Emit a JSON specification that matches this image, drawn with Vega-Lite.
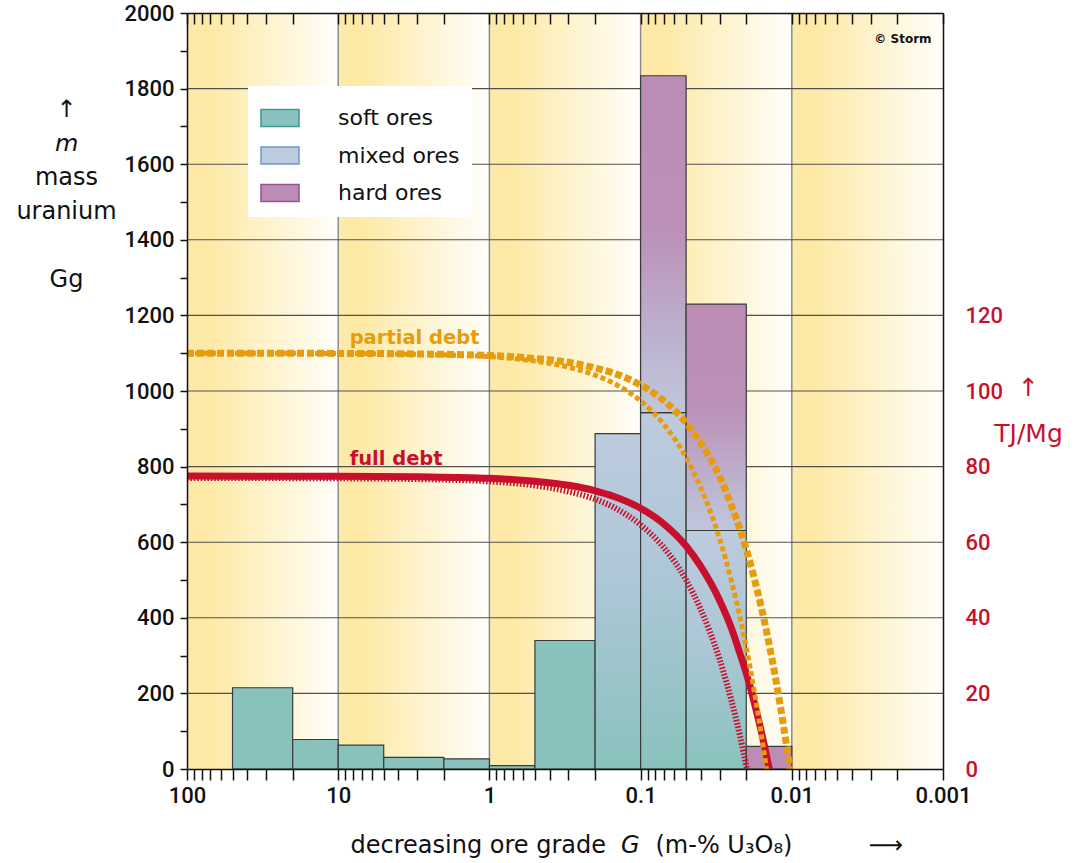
{
  "$schema": "https://vega.github.io/schema/vega-lite/v6.json",
  "width": 756,
  "height": 756,
  "autosize": {"type": "none"},
  "padding": {"left": 187, "top": 13, "right": 131, "bottom": 94},
  "background": "white",
  "config": {"view": {"stroke": null}, "font": "DejaVu Sans"},
  "datasets": {
    "decades": [{"lo": 100, "hi": 10}, {"lo": 10, "hi": 1}, {"lo": 1, "hi": 0.1}, {"lo": 0.1, "hi": 0.01}, {"lo": 0.01, "hi": 0.001}],
    "vlines": [{"g": 10}, {"g": 1}, {"g": 0.1}, {"g": 0.01}],
    "hlines": [{"m": 200}, {"m": 400}, {"m": 600}, {"m": 800}, {"m": 1000}, {"m": 1200}, {"m": 1400}, {"m": 1600}, {"m": 1800}],
    "soft": [
      {"lo": 50, "hi": 20, "base": 0, "top": 215},
      {"lo": 20, "hi": 10, "base": 0, "top": 78},
      {"lo": 10, "hi": 5, "base": 0, "top": 63},
      {"lo": 5, "hi": 2, "base": 0, "top": 31},
      {"lo": 2, "hi": 1, "base": 0, "top": 27},
      {"lo": 1, "hi": 0.5, "base": 0, "top": 9},
      {"lo": 0.5, "hi": 0.2, "base": 0, "top": 340}
    ],
    "lowgrad": [
      {"lo": 0.2, "hi": 0.1, "base": 0, "top": 887},
      {"lo": 0.1, "hi": 0.05, "base": 0, "top": 943},
      {"lo": 0.05, "hi": 0.02, "base": 0, "top": 631}
    ],
    "upgrad": [
      {"lo": 0.1, "hi": 0.05, "base": 943, "top": 1834},
      {"lo": 0.05, "hi": 0.02, "base": 631, "top": 1230}
    ],
    "hard": [{"lo": 0.02, "hi": 0.01, "base": 0, "top": 60}],
    "types": [{"type": "soft ores"}, {"type": "mixed ores"}, {"type": "hard ores"}],
    "po": [
      {"g": 100, "e": 110.0}, {"g": 10, "e": 109.95}, {"g": 3, "e": 109.8}, {"g": 1, "e": 109.4},
      {"g": 0.5, "e": 108.6}, {"g": 0.3, "e": 107.6}, {"g": 0.2, "e": 106.1}, {"g": 0.15, "e": 104.7}, {"g": 0.1, "e": 101.6},
      {"g": 0.07, "e": 97.4}, {"g": 0.05, "e": 91.6}, {"g": 0.04, "e": 86.3}, {"g": 0.03, "e": 77.3}, {"g": 0.025, "e": 69.6},
      {"g": 0.022, "e": 63.4}, {"g": 0.02, "e": 58.1}, {"g": 0.018, "e": 51.5}, {"g": 0.016, "e": 43.2}, {"g": 0.0145, "e": 35.3},
      {"g": 0.013, "e": 25.5}, {"g": 0.012, "e": 17.5}, {"g": 0.011, "e": 7.9}, {"g": 0.0106, "e": 3.6}, {"g": 0.0103, "e": 0}
    ],
    "pi": [
      {"g": 100, "e": 110.0}, {"g": 10, "e": 109.93}, {"g": 3, "e": 109.7}, {"g": 1, "e": 109.1},
      {"g": 0.5, "e": 107.9}, {"g": 0.3, "e": 106.3}, {"g": 0.2, "e": 104.2}, {"g": 0.15, "e": 102.0}, {"g": 0.1, "e": 97.4},
      {"g": 0.07, "e": 91.1}, {"g": 0.05, "e": 82.4}, {"g": 0.04, "e": 74.4}, {"g": 0.03, "e": 60.9}, {"g": 0.025, "e": 49.5},
      {"g": 0.022, "e": 40.1}, {"g": 0.02, "e": 32.1}, {"g": 0.018, "e": 22.2}, {"g": 0.0165, "e": 13.2}, {"g": 0.0155, "e": 6.1},
      {"g": 0.0147, "e": 0}
    ],
    "fs": [
      {"g": 100, "e": 77.5}, {"g": 10, "e": 77.45}, {"g": 3, "e": 77.3}, {"g": 1, "e": 76.9},
      {"g": 0.5, "e": 76.1}, {"g": 0.3, "e": 75.05}, {"g": 0.2, "e": 73.6}, {"g": 0.15, "e": 72.1}, {"g": 0.1, "e": 69.0},
      {"g": 0.07, "e": 64.8}, {"g": 0.05, "e": 59.0}, {"g": 0.04, "e": 53.6}, {"g": 0.03, "e": 44.6}, {"g": 0.025, "e": 37.1},
      {"g": 0.022, "e": 30.5}, {"g": 0.02, "e": 25.3}, {"g": 0.018, "e": 18.7}, {"g": 0.016, "e": 10.3}, {"g": 0.015, "e": 5.2},
      {"g": 0.0145, "e": 2.4}, {"g": 0.0141, "e": 0}
    ],
    "fd": [
      {"g": 100, "e": 77.0}, {"g": 10, "e": 76.9}, {"g": 3, "e": 76.7}, {"g": 1, "e": 76.1},
      {"g": 0.5, "e": 75.0}, {"g": 0.3, "e": 73.4}, {"g": 0.2, "e": 71.4}, {"g": 0.15, "e": 69.2}, {"g": 0.1, "e": 64.6},
      {"g": 0.07, "e": 58.5}, {"g": 0.05, "e": 50.0}, {"g": 0.04, "e": 42.2}, {"g": 0.035, "e": 36.5}, {"g": 0.03, "e": 29.0},
      {"g": 0.027, "e": 22.8}, {"g": 0.025, "e": 17.9}, {"g": 0.0233, "e": 13.0}, {"g": 0.022, "e": 8.7}, {"g": 0.021, "e": 4.9},
      {"g": 0.0205, "e": 2.9}, {"g": 0.0198, "e": 0}
    ],
    "lab_partial": [{"g": 8.4, "e": 112.5, "t": "partial debt"}],
    "lab_full": [{"g": 8.4, "e": 80.5, "t": "full debt"}],
    "lab_copy": [{"g": 0.00119, "e": 193, "t": "© Storm"}]
  },
  "layer": [
    {
      "data": {"name": "decades"},
      "mark": {
        "type": "rect",
        "fill": {"gradient": "linear", "x1": 0, "y1": 0, "x2": 1, "y2": 0,
          "stops": [{"offset": 0, "color": "#fdeaab"}, {"offset": 0.12, "color": "#fde9a3"}, {"offset": 1, "color": "#fffefa"}]},
        "strokeWidth": 0
      },
      "encoding": {
        "x": {"field": "lo", "type": "quantitative", "scale": {"type": "log", "domain": [0.001, 100], "reverse": true, "nice": false}, "axis": null},
        "x2": {"field": "hi"},
        "y": {"datum": 0, "type": "quantitative", "scale": {"domain": [0, 2000], "nice": false}, "axis": null},
        "y2": {"datum": 2000}
      }
    },
    {
      "data": {"name": "vlines"},
      "mark": {"type": "rule", "color": "#8c8c8c", "strokeWidth": 1.5},
      "encoding": {
        "x": {"field": "g", "type": "quantitative", "scale": {"type": "log", "domain": [0.001, 100], "reverse": true, "nice": false},
          "axis": {
            "orient": "bottom",
            "values": [100, 90, 80, 70, 60, 50, 40, 30, 20, 10, 9, 8, 7, 6, 5, 4, 3, 2, 1, 0.9, 0.8, 0.7, 0.6, 0.5, 0.4, 0.3, 0.2, 0.1, 0.09, 0.08, 0.07, 0.06, 0.05, 0.04, 0.03, 0.02, 0.01, 0.009, 0.008, 0.007, 0.006, 0.005, 0.004, 0.003, 0.002, 0.001],
            "labelExpr": "abs(log(datum.value)/LN10 - round(log(datum.value)/LN10)) < 0.001 ? format(datum.value, '~g') : ''",
            "tickSize": 11, "tickWidth": 1.5, "tickColor": "#111",
            "domainColor": "#111", "domainWidth": 1.5,
            "labelFont": "Roboto", "labelFontSize": 22, "labelFontWeight": 500, "labelColor": "#111", "labelPadding": 5,
            "labelOverlap": false, "labelFlush": false, "labelBound": false,
            "grid": false, "zindex": 1,
            "title": "decreasing ore grade\u00a0\u00a0𝘎\u00a0\u00a0(m-%\u00a0U₃O₈)\u00a0\u00a0\u00a0\u00a0\u00a0\u00a0\u00a0\u00a0\u00a0\u00a0⟶",
            "titleFont": "DejaVu Sans", "titleFontSize": 24, "titleFontWeight": "normal", "titleColor": "#111",
            "titleAlign": "left", "titleBaseline": "alphabetic", "titleX": 163, "titleY": 83
          }
        }
      }
    },
    {
      "data": {"name": "hlines"},
      "mark": {"type": "rule", "color": "#505050", "strokeWidth": 1.1},
      "encoding": {
        "y": {"field": "m", "type": "quantitative", "scale": {"domain": [0, 2000], "nice": false},
          "axis": {
            "orient": "left",
            "values": [0, 100, 200, 300, 400, 500, 600, 700, 800, 900, 1000, 1100, 1200, 1300, 1400, 1500, 1600, 1700, 1800, 1900, 2000],
            "format": "d",
            "labelExpr": "datum.value % 200 == 0 ? datum.label : ''",
            "tickSize": 7, "tickWidth": 1.5, "tickColor": "#111",
            "domainColor": "#111", "domainWidth": 1.5,
            "labelFont": "Roboto", "labelFontSize": 22, "labelFontWeight": 500, "labelColor": "#111", "labelPadding": 6,
            "labelOverlap": false, "labelBound": false, "labelFlush": false,
            "grid": false, "zindex": 1,
            "title": ["↑", "𝘮", "mass", "uranium", "\u2800", "Gg"],
            "titleAngle": 0, "titleAlign": "center", "titleBaseline": "alphabetic",
            "titleX": -121, "titleY": 103,
            "titleFont": "DejaVu Sans", "titleFontSize": 24, "titleFontWeight": "normal", "titleColor": "#111",
            "titleLineHeight": 34
          }
        }
      }
    },
    {
      "data": {"name": "soft"},
      "mark": {"type": "rect", "fill": "#89c2bd", "stroke": "#3a3a3a", "strokeWidth": 1.2},
      "encoding": {
        "x": {"field": "lo", "type": "quantitative", "scale": {"type": "log", "domain": [0.001, 100], "reverse": true, "nice": false}, "axis": null},
        "x2": {"field": "hi"},
        "y": {"field": "top", "type": "quantitative", "scale": {"domain": [0, 2000], "nice": false}, "axis": null},
        "y2": {"field": "base"}
      }
    },
    {
      "data": {"name": "lowgrad"},
      "mark": {
        "type": "rect",
        "fill": {"gradient": "linear", "x1": 0, "y1": 1, "x2": 0, "y2": 0,
          "stops": [{"offset": 0, "color": "#89c2bd"}, {"offset": 0.55, "color": "#adc7d6"}, {"offset": 1, "color": "#bdcbde"}]},
        "stroke": "#3a3a3a", "strokeWidth": 1.2
      },
      "encoding": {
        "x": {"field": "lo", "type": "quantitative", "scale": {"type": "log", "domain": [0.001, 100], "reverse": true, "nice": false}, "axis": null},
        "x2": {"field": "hi"},
        "y": {"field": "top", "type": "quantitative", "scale": {"domain": [0, 2000], "nice": false}, "axis": null},
        "y2": {"field": "base"}
      }
    },
    {
      "data": {"name": "upgrad"},
      "mark": {
        "type": "rect",
        "fill": {"gradient": "linear", "x1": 0, "y1": 1, "x2": 0, "y2": 0,
          "stops": [{"offset": 0, "color": "#bfc8dc"}, {"offset": 0.55, "color": "#bb90b7"}, {"offset": 1, "color": "#bb8db5"}]},
        "stroke": "#3a3a3a", "strokeWidth": 1.2
      },
      "encoding": {
        "x": {"field": "lo", "type": "quantitative", "scale": {"type": "log", "domain": [0.001, 100], "reverse": true, "nice": false}, "axis": null},
        "x2": {"field": "hi"},
        "y": {"field": "top", "type": "quantitative", "scale": {"domain": [0, 2000], "nice": false}, "axis": null},
        "y2": {"field": "base"}
      }
    },
    {
      "data": {"name": "hard"},
      "mark": {"type": "rect", "fill": "#bb8db5", "stroke": "#3a3a3a", "strokeWidth": 1.2},
      "encoding": {
        "x": {"field": "lo", "type": "quantitative", "scale": {"type": "log", "domain": [0.001, 100], "reverse": true, "nice": false}, "axis": null},
        "x2": {"field": "hi"},
        "y": {"field": "top", "type": "quantitative", "scale": {"domain": [0, 2000], "nice": false}, "axis": null},
        "y2": {"field": "base"}
      }
    },
    {
      "data": {"name": "types"},
      "mark": {"type": "point", "filled": true, "clip": true, "opacity": 1, "strokeWidth": 1.5},
      "encoding": {
        "x": {"datum": 1, "type": "quantitative", "scale": {"type": "log", "domain": [0.001, 100], "reverse": true, "nice": false}, "axis": null},
        "y": {"datum": -1000, "type": "quantitative", "scale": {"domain": [0, 2000], "nice": false}, "axis": null},
        "fill": {"field": "type", "type": "nominal",
          "scale": {"domain": ["soft ores", "mixed ores", "hard ores"], "range": ["#89c2bd", "#bccbdf", "#bb8db5"]},
          "legend": {"title": null, "orient": "none", "legendX": 61, "legendY": 73, "direction": "vertical",
            "fillColor": "white", "padding": 12, "symbolType": "M-1,-0.45H1V0.45H-1Z", "symbolSize": 1444,
            "symbolStrokeWidth": 1.5, "symbolOpacity": 1, "labelFont": "DejaVu Sans", "labelFontSize": 22,
            "labelColor": "#111", "labelOffset": 38, "rowPadding": 5.5}},
        "stroke": {"field": "type", "type": "nominal",
          "scale": {"domain": ["soft ores", "mixed ores", "hard ores"], "range": ["#3c998f", "#6b9bc9", "#9b4f92"]},
          "legend": {"title": null, "orient": "none", "legendX": 61, "legendY": 73, "direction": "vertical",
            "fillColor": "white", "padding": 12, "symbolType": "M-1,-0.45H1V0.45H-1Z", "symbolSize": 1444,
            "symbolStrokeWidth": 1.5, "symbolOpacity": 1, "labelFont": "DejaVu Sans", "labelFontSize": 22,
            "labelColor": "#111", "labelOffset": 38, "rowPadding": 5.5}}
      }
    },
    {
      "data": {"name": "fd"},
      "mark": {"type": "line", "color": "#c8102e", "strokeWidth": 6, "strokeDash": [1.6, 1.8], "interpolate": "monotone"},
      "encoding": {
        "x": {"field": "g", "type": "quantitative", "scale": {"type": "log", "domain": [0.001, 100], "reverse": true, "nice": false},
          "axis": {
            "orient": "top",
            "values": [100, 90, 80, 70, 60, 50, 40, 30, 20, 10, 9, 8, 7, 6, 5, 4, 3, 2, 1, 0.9, 0.8, 0.7, 0.6, 0.5, 0.4, 0.3, 0.2, 0.1, 0.09, 0.08, 0.07, 0.06, 0.05, 0.04, 0.03, 0.02, 0.01, 0.009, 0.008, 0.007, 0.006, 0.005, 0.004, 0.003, 0.002, 0.001],
            "labels": false, "tickSize": -11, "tickWidth": 1.5, "tickColor": "#111",
            "domainColor": "#111", "domainWidth": 1.5, "grid": false, "title": null, "zindex": 1
          }
        },
        "y": {"field": "e", "type": "quantitative", "scale": {"domain": [0, 200], "nice": false},
          "axis": {
            "orient": "right",
            "values": [0, 20, 40, 60, 80, 100, 120],
            "format": "d",
            "ticks": false, "tickSize": 0, "labelPadding": 22, "labelAlign": "left",
            "labelFont": "Roboto", "labelFontSize": 22, "labelFontWeight": 500, "labelColor": "#c8102e",
            "labelOverlap": false, "labelBound": false, "labelFlush": false,
            "domainColor": "#111", "domainWidth": 1.5, "grid": false, "zindex": 1,
            "title": ["↑", "TJ/Mg"],
            "titleAngle": 0, "titleAlign": "center", "titleBaseline": "alphabetic",
            "titleX": 85, "titleY": 382,
            "titleFont": "DejaVu Sans", "titleFontSize": 25, "titleFontWeight": "normal", "titleColor": "#c8102e",
            "titleLineHeight": 46
          }
        }
      }
    },
    {
      "data": {"name": "fs"},
      "mark": {"type": "line", "color": "#c8102e", "strokeWidth": 7, "interpolate": "monotone"},
      "encoding": {
        "x": {"field": "g", "type": "quantitative", "scale": {"type": "log", "domain": [0.001, 100], "reverse": true, "nice": false}, "axis": null},
        "y": {"field": "e", "type": "quantitative", "scale": {"domain": [0, 200], "nice": false}, "axis": null}
      }
    },
    {
      "data": {"name": "pi"},
      "mark": {"type": "line", "color": "#e89c0c", "strokeWidth": 5, "strokeDash": [5, 3], "interpolate": "monotone"},
      "encoding": {
        "x": {"field": "g", "type": "quantitative", "scale": {"type": "log", "domain": [0.001, 100], "reverse": true, "nice": false}, "axis": null},
        "y": {"field": "e", "type": "quantitative", "scale": {"domain": [0, 200], "nice": false}, "axis": null}
      }
    },
    {
      "data": {"name": "po"},
      "mark": {"type": "line", "color": "#e89c0c", "strokeWidth": 7, "strokeDash": [7, 3], "interpolate": "monotone"},
      "encoding": {
        "x": {"field": "g", "type": "quantitative", "scale": {"type": "log", "domain": [0.001, 100], "reverse": true, "nice": false}, "axis": null},
        "y": {"field": "e", "type": "quantitative", "scale": {"domain": [0, 200], "nice": false}, "axis": null}
      }
    },
    {
      "data": {"name": "lab_partial"},
      "mark": {"type": "text", "align": "left", "baseline": "alphabetic", "font": "DejaVu Sans", "fontSize": 19.5, "fontWeight": "bold", "color": "#e89c0c"},
      "encoding": {
        "x": {"field": "g", "type": "quantitative", "scale": {"type": "log", "domain": [0.001, 100], "reverse": true, "nice": false}, "axis": null},
        "y": {"field": "e", "type": "quantitative", "scale": {"domain": [0, 200], "nice": false}, "axis": null},
        "text": {"field": "t"}
      }
    },
    {
      "data": {"name": "lab_full"},
      "mark": {"type": "text", "align": "left", "baseline": "alphabetic", "font": "DejaVu Sans", "fontSize": 19.5, "fontWeight": "bold", "color": "#c8102e"},
      "encoding": {
        "x": {"field": "g", "type": "quantitative", "scale": {"type": "log", "domain": [0.001, 100], "reverse": true, "nice": false}, "axis": null},
        "y": {"field": "e", "type": "quantitative", "scale": {"domain": [0, 200], "nice": false}, "axis": null},
        "text": {"field": "t"}
      }
    },
    {
      "data": {"name": "lab_copy"},
      "mark": {"type": "text", "align": "right", "baseline": "middle", "font": "DejaVu Sans", "fontSize": 12, "fontWeight": "bold", "color": "#111"},
      "encoding": {
        "x": {"field": "g", "type": "quantitative", "scale": {"type": "log", "domain": [0.001, 100], "reverse": true, "nice": false}, "axis": null},
        "y": {"field": "e", "type": "quantitative", "scale": {"domain": [0, 200], "nice": false}, "axis": null},
        "text": {"field": "t"}
      }
    }
  ],
  "resolve": {"scale": {"y": "independent"}, "axis": {"x": "independent", "y": "independent"}}
}
